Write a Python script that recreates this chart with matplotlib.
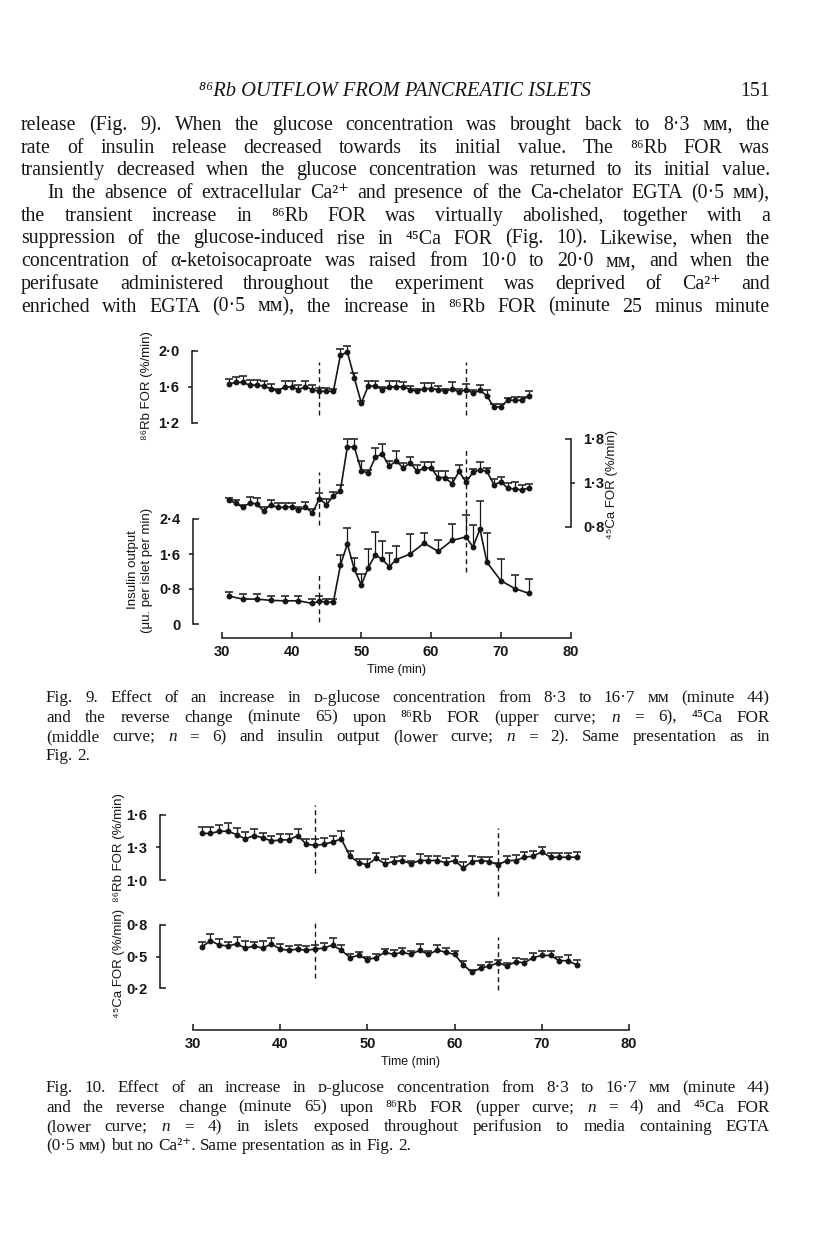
import matplotlib
matplotlib.use("Agg")
import matplotlib.pyplot as plt
import numpy as np

W, H, DPI = 816, 1243, 100

# ---- data ----
minutes = np.arange(31, 75)
glucose_up, glucose_down = 44, 65

# Fig. 9
rb9 = [1.63, 1.65, 1.65, 1.62, 1.62, 1.61, 1.58, 1.55, 1.60, 1.60, 1.57, 1.60, 1.57, 1.55,
       1.55, 1.55, 1.95, 1.99, 1.70, 1.42, 1.61, 1.61, 1.57, 1.60, 1.60, 1.60, 1.57, 1.55,
       1.58, 1.58, 1.57, 1.55, 1.58, 1.54, 1.57, 1.53, 1.56, 1.50, 1.37, 1.38, 1.45, 1.45,
       1.45, 1.50]
rb9_sem = [0.06, 0.06, 0.07, 0.06, 0.06, 0.06, 0.05, 0.03, 0.06, 0.06, 0.05, 0.06, 0.05, 0.04,
           0.04, 0.03, 0.07, 0.07, 0.06, 0.02, 0.06, 0.06, 0.03, 0.06, 0.06, 0.05, 0.04, 0.03,
           0.06, 0.06, 0.04, 0.03, 0.07, 0.04, 0.06, 0.03, 0.06, 0.07, 0.04, 0.03, 0.03, 0.04,
           0.04, 0.05]
ca9 = [1.10, 1.07, 1.02, 1.07, 1.06, 0.98, 1.05, 1.02, 1.02, 1.03, 0.99, 1.02, 0.96, 1.12,
       1.05, 1.15, 1.21, 1.71, 1.71, 1.44, 1.41, 1.59, 1.63, 1.49, 1.55, 1.47, 1.53, 1.43,
       1.47, 1.47, 1.36, 1.36, 1.29, 1.43, 1.31, 1.42, 1.45, 1.43, 1.28, 1.31, 1.24, 1.23,
       1.22, 1.24]
ca9_sem = [0.03, 0.04, 0.03, 0.07, 0.07, 0.04, 0.06, 0.05, 0.05, 0.04, 0.04, 0.06, 0.04, 0.06,
           0.07, 0.05, 0.06, 0.09, 0.09, 0.11, 0.04, 0.11, 0.11, 0.06, 0.11, 0.06, 0.06, 0.07,
           0.07, 0.07, 0.07, 0.07, 0.07, 0.07, 0.04, 0.04, 0.09, 0.04, 0.06, 0.06, 0.06, 0.08,
           0.06, 0.05]
ins_t = [31, 33, 35, 37, 39, 41, 43, 44, 45, 46, 47, 48, 49, 50, 51, 52, 53, 54, 55, 57,
         59, 61, 63, 65, 66, 67, 68, 70, 72, 74]
ins = [0.64, 0.57, 0.57, 0.54, 0.53, 0.53, 0.47, 0.52, 0.50, 0.50, 1.34, 1.83, 1.25, 0.89,
       1.29, 1.58, 1.48, 1.31, 1.47, 1.60, 1.85, 1.66, 1.91, 1.99, 1.76, 2.17, 1.41, 0.99,
       0.81, 0.70]
ins_sem = [0.10, 0.12, 0.12, 0.11, 0.12, 0.12, 0.11, 0.13, 0.08, 0.07, 0.23, 0.36, 0.25, 0.25,
           0.43, 0.53, 0.41, 0.31, 0.32, 0.45, 0.24, 0.25, 0.37, 0.51, 0.50, 0.65, 0.66, 0.50,
           0.30, 0.34]

# Fig. 10
rb10 = [1.43, 1.43, 1.45, 1.45, 1.42, 1.38, 1.41, 1.39, 1.36, 1.37, 1.37, 1.41, 1.33, 1.32,
        1.33, 1.35, 1.38, 1.22, 1.16, 1.14, 1.20, 1.15, 1.17, 1.18, 1.15, 1.18, 1.18, 1.18,
        1.16, 1.18, 1.11, 1.17, 1.18, 1.17, 1.14, 1.18, 1.18, 1.21, 1.22, 1.26, 1.21, 1.21,
        1.21, 1.21]
rb10_sem = [0.055, 0.055, 0.06, 0.075, 0.06, 0.065, 0.06, 0.045, 0.045, 0.055, 0.055, 0.06,
            0.045, 0.055, 0.06, 0.06, 0.068, 0.046, 0.035, 0.05, 0.045, 0.045, 0.04, 0.04,
            0.03, 0.06, 0.045, 0.04, 0.04, 0.045, 0.06, 0.055, 0.03, 0.04, 0.02, 0.04, 0.055,
            0.05, 0.05, 0.046, 0.04, 0.04, 0.04, 0.05]
ca10 = [0.59, 0.65, 0.61, 0.60, 0.62, 0.58, 0.60, 0.58, 0.62, 0.57, 0.56, 0.57, 0.56, 0.57,
        0.58, 0.61, 0.56, 0.49, 0.51, 0.47, 0.49, 0.54, 0.52, 0.54, 0.52, 0.56, 0.52, 0.56,
        0.54, 0.52, 0.42, 0.35, 0.39, 0.41, 0.44, 0.41, 0.45, 0.44, 0.49, 0.51, 0.51, 0.46,
        0.46, 0.42]
ca10_sem = [0.048, 0.06, 0.054, 0.04, 0.07, 0.067, 0.04, 0.067, 0.06, 0.048, 0.04, 0.04, 0.04,
            0.04, 0.045, 0.063, 0.045, 0.03, 0.03, 0.03, 0.03, 0.035, 0.04, 0.04, 0.03, 0.055,
            0.03, 0.045, 0.04, 0.03, 0.04, 0.02, 0.03, 0.035, 0.03, 0.03, 0.035, 0.04, 0.045,
            0.04, 0.04, 0.035, 0.05, 0.05]

time_ticks = [30, 40, 50, 60, 70, 80]

# ---- page text ----
header = "⁸⁶Rb OUTFLOW FROM PANCREATIC ISLETS"
page_no = "151"
body = [
    ("release (Fig. 9). When the glucose concentration was brought back to 8·3 ᴍᴍ, the", True, False),
    ("rate of insulin release decreased towards its initial value. The ⁸⁶Rb FOR was", True, False),
    ("transiently decreased when the glucose concentration was returned to its initial value.", True, False),
    ("In the absence of extracellular Ca²⁺ and presence of the Ca-chelator EGTA (0·5 ᴍᴍ),", True, True),
    ("the transient increase in ⁸⁶Rb FOR was virtually abolished, together with a", True, False),
    ("suppression of the glucose-induced rise in ⁴⁵Ca FOR (Fig. 10). Likewise, when the", True, False),
    ("concentration of α-ketoisocaproate was raised from 10·0 to 20·0 ᴍᴍ, and when the", True, False),
    ("perifusate administered throughout the experiment was deprived of Ca²⁺ and", True, False),
    ("enriched with EGTA (0·5 ᴍᴍ), the increase in ⁸⁶Rb FOR (minute 25 minus minute", True, False),
]
caption9 = [
    ("Fig. 9. Effect of an increase in ᴅ-glucose concentration from 8·3 to 16·7 ᴍᴍ (minute 44)", True),
    ("and the reverse change (minute 65) upon ⁸⁶Rb FOR (upper curve; n = 6), ⁴⁵Ca FOR", True),
    ("(middle curve; n = 6) and insulin output (lower curve; n = 2). Same presentation as in", True),
    ("Fig. 2.", False),
]
caption10 = [
    ("Fig. 10. Effect of an increase in ᴅ-glucose concentration from 8·3 to 16·7 ᴍᴍ (minute 44)", True),
    ("and the reverse change (minute 65) upon ⁸⁶Rb FOR (upper curve; n = 4) and ⁴⁵Ca FOR", True),
    ("(lower curve; n = 4) in islets exposed throughout perifusion to media containing EGTA", True),
    ("(0·5 ᴍᴍ) but no Ca²⁺. Same presentation as in Fig. 2.", False),
]

serif = ['Liberation Serif', 'DejaVu Serif', 'DejaVu Sans']
sans = ['Liberation Sans', 'DejaVu Sans']
INK = '#161616'

fig = plt.figure(figsize=(W / DPI, H / DPI), dpi=DPI)
renderer = fig.canvas.get_renderer()


def fy(py):
    return 1 - py / H


def word_widths(words, size, italic):
    arts = [fig.text(0, 0, w, fontsize=size, family=serif, color=INK, va='baseline',
                     style='italic' if w in italic else 'normal') for w in words]
    return arts, [a.get_window_extent(renderer).width for a in arts]


def fit_size(lines, width, size, italic=()):
    # shrink the font until the tightest line fits the measure
    worst = 0
    for text, _ in lines:
        words = text.split()
        arts, ws = word_widths(words, size, italic)
        for a in arts:
            a.remove()
        natural = sum(ws) + (len(words) - 1) * size * DPI / 72 * 0.22
        worst = max(worst, natural / width)
    return size / max(worst, 1.0)


def set_line(text, x0, x1, base, size, justify, italic=()):
    words = text.split()
    arts, ws = word_widths(words, size, italic)
    gap = size * DPI / 72 * 0.25
    if justify and len(words) > 1:
        gap = (x1 - x0 - sum(ws)) / (len(words) - 1)
    x = x0
    for a, w in zip(arts, ws):
        a.set_position((x / W, fy(base)))
        x += w + gap


# header and body
BODY_L, BODY_R, INDENT = 21, 770, 26
bsize = fit_size([(t, j) for t, j, _ in body], BODY_R - BODY_L, 14.3)
fig.text(395 / W, fy(96), header, fontsize=bsize + 0.5, family=serif, style='italic',
         ha='center', va='baseline', color=INK)
fig.text(BODY_R / W, fy(96), page_no, fontsize=bsize, family=serif, ha='right',
         va='baseline', color=INK)
for i, (text, just, indent) in enumerate(body):
    set_line(text, BODY_L + (INDENT if indent else 0), BODY_R, 130 + i * 22.7, bsize, just)

CAP_L, CAP_R = 46, 770
csize = fit_size(caption9 + caption10, CAP_R - CAP_L, 12.3, italic=('n',))
for i, (text, just) in enumerate(caption9):
    set_line(text, CAP_L, CAP_R, 702 + i * 19.5, csize, just, italic=('n',))
for i, (text, just) in enumerate(caption10):
    set_line(text, CAP_L, CAP_R, 1092 + i * 19.5, csize, just, italic=('n',))


# ---- chart helpers ----
def px_axes(left, top, right, bottom):
    ax = fig.add_axes([left / W, fy(bottom), (right - left) / W, (bottom - top) / H])
    ax.patch.set_visible(False)
    for s in ax.spines.values():
        s.set_visible(False)
    ax.set_xlim(30, 80)
    ax.xaxis.set_visible(False)
    return ax


def bracket_axis(ax, side, ticks, labels, offset_px):
    sp = ax.spines[side]
    sp.set_visible(True)
    sp.set_linewidth(1.1)
    sp.set_color(INK)
    sp.set_position(('outward', offset_px * 72 / DPI))
    ax.set_ylim(ticks[0], ticks[-1])
    ax.yaxis.set_ticks_position(side)
    ax.set_yticks(ticks[1:-1])
    ax.set_yticklabels(labels[1:-1])
    ax.set_yticks([ticks[0], ticks[-1]], minor=True)
    ax.set_yticklabels([labels[0], labels[-1]], minor=True)
    ax.tick_params(axis='y', which='major', direction='out', length=3, width=1.1, pad=6,
                   labelsize=10.5, colors=INK)
    ax.tick_params(axis='y', which='minor', direction='in', length=4, width=1.1, pad=9,
                   labelsize=10.5, colors=INK)
    for lab in ax.get_yticklabels(which='both'):
        lab.set_fontweight('bold')
        lab.set_family(sans)


def time_axis(ax, offset_px):
    ax.xaxis.set_visible(True)
    sp = ax.spines['bottom']
    sp.set_visible(True)
    sp.set_linewidth(1.1)
    sp.set_color(INK)
    sp.set_position(('outward', offset_px * 72 / DPI))
    ax.set_xticks(time_ticks)
    ax.tick_params(axis='x', direction='in', length=4, width=1.1, pad=5, labelsize=10.5,
                   colors=INK)
    for lab in ax.get_xticklabels():
        lab.set_fontweight('bold')
        lab.set_family(sans)
    ax.set_xlabel('Time (min)', fontsize=9, family=sans, color=INK, labelpad=4)


def curve(ax, t, v, sem):
    t = np.asarray(t)
    v = np.asarray(v)
    top = v + np.asarray(sem)
    ax.vlines(t, v, top, color=INK, lw=0.9, clip_on=False)
    ax.plot(t, top, ls='none', marker='_', ms=5.5, mew=1.1, color=INK, clip_on=False)
    ax.plot(t, v, '-o', color=INK, lw=1.2, ms=3.2, clip_on=False)


def marker_line(ax, t, lo, hi):
    ax.axvline(t, ymin=lo, ymax=hi, color=INK, lw=1.0, ls=(0, (3.5, 2.5)), clip_on=False)


def ylabel(px, py, text):
    fig.text(px / W, fy(py), text, rotation=90, fontsize=9.5, family=sans, color=INK,
             ha='center', va='center', multialignment='center', linespacing=1.3)


# ---- Fig. 9 ----
ax_rb9 = px_axes(221.7, 351, 570.7, 422.7)
bracket_axis(ax_rb9, 'left', [1.2, 1.6, 2.0], ['1·2', '1·6', '2·0'], 29.7)
curve(ax_rb9, minutes, rb9, rb9_sem)
marker_line(ax_rb9, glucose_up, 0.107, 0.847)
marker_line(ax_rb9, glucose_down, 0.107, 0.847)

ax_ca9 = px_axes(221.7, 439, 570.7, 526.7)
bracket_axis(ax_ca9, 'right', [0.8, 1.3, 1.8], ['0·8', '1·3', '1·8'], 0)
curve(ax_ca9, minutes, ca9, ca9_sem)
marker_line(ax_ca9, glucose_up, 0.02, 0.624)
marker_line(ax_ca9, glucose_down, -0.517, 0.909)

ax_ins = px_axes(221.7, 519, 570.7, 624)
bracket_axis(ax_ins, 'left', [0, 0.8, 1.6, 2.4], ['0', '0·8', '1·6', '2·4'], 28.7)
curve(ax_ins, ins_t, ins, ins_sem)
marker_line(ax_ins, glucose_up, 0.019, 0.476)
time_axis(ax_ins, 14)

ylabel(147, 386, '⁸⁶Rb FOR (%/min)')
ylabel(612, 484, '⁴⁵Ca FOR (%/min)')
ylabel(140, 570, 'Insulin output\n(μu. per islet per min)')

# ---- Fig. 10 ----
ax_rb10 = px_axes(193, 815, 629, 880)
bracket_axis(ax_rb10, 'left', [1.0, 1.3, 1.6], ['1·0', '1·3', '1·6'], 33)
curve(ax_rb10, minutes, rb10, rb10_sem)
marker_line(ax_rb10, glucose_up, 0.108, 1.154)
marker_line(ax_rb10, glucose_down, -0.246, 0.8)

ax_ca10 = px_axes(193, 925, 629, 988)
bracket_axis(ax_ca10, 'left', [0.2, 0.5, 0.8], ['0·2', '0·5', '0·8'], 33)
curve(ax_ca10, minutes, ca10, ca10_sem)
marker_line(ax_ca10, glucose_up, 0.159, 1.079)
marker_line(ax_ca10, glucose_down, -0.032, 0.81)
time_axis(ax_ca10, 42)

ylabel(119, 848, '⁸⁶Rb FOR (%/min)')
ylabel(119, 963, '⁴⁵Ca FOR (%/min)')

fig.savefig('out.png', dpi=DPI)
